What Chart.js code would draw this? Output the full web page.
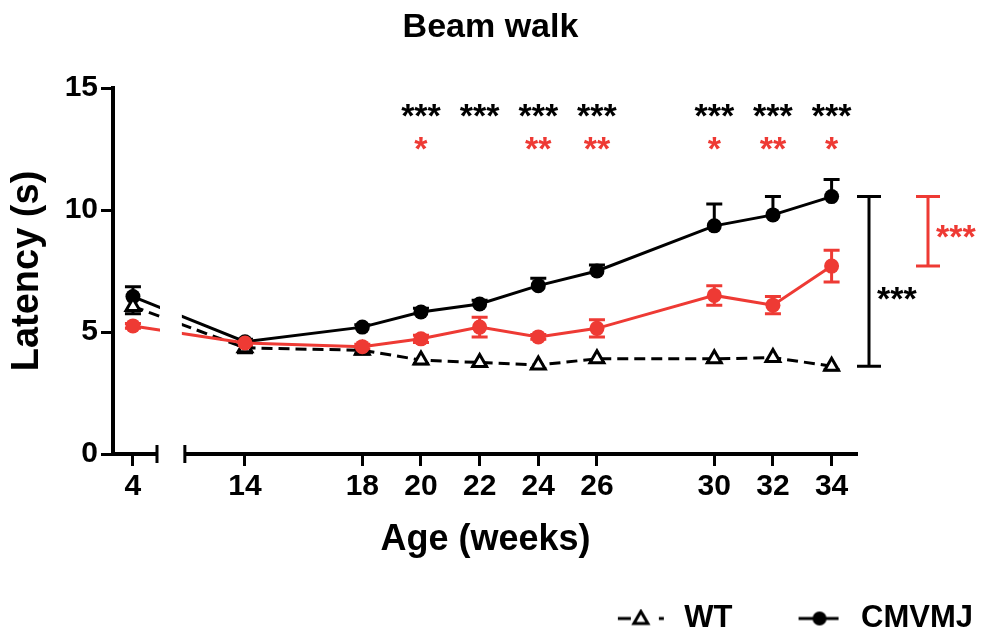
<!DOCTYPE html>
<html>
<head>
<meta charset="utf-8">
<script src="https://cdn.jsdelivr.net/npm/chart.js@4/dist/chart.umd.min.js"></script>
<style>
    body { margin: 0; background: #fff; }
    #wrap { width: 981px; height: 644px; }
</style>
</head>
<body>
<div id="wrap"><canvas id="beam-walk"></canvas></div>
<script>
const ages = [4, 14, 18, 20, 22, 24, 26, 30, 32, 34];
const wtLatency = [6.05, 4.35, 4.25, 3.85, 3.75, 3.65, 3.9, 3.9, 3.95, 3.6];
const wtSem = [0.3, 0.2, 0.15, 0.15, 0.15, 0.15, 0.15, 0.15, 0.15, 0.15];
const mjLatency = [6.45, 4.6, 5.2, 5.82, 6.15, 6.9, 7.5, 9.35, 9.8, 10.55];
const mjSem = [0.4, 0.1, 0.1, 0.15, 0.15, 0.3, 0.25, 0.9, 0.75, 0.7];
const treatedLatency = [5.25, 4.55, 4.4, 4.72, 5.2, 4.8, 5.15, 6.5, 6.1, 7.7];
const treatedSem = [0.1, 0.1, 0.1, 0.15, 0.4, 0.1, 0.35, 0.4, 0.35, 0.65];
const mjStars = ['', '', '', '***', '***', '***', '***', '***', '***', '***'];
const treatedStars = ['', '', '', '*', '', '**', '**', '*', '**', '*'];
const yTicks = [0, 5, 10, 15];

const BLACK = '#000';
const RED = '#ee3a34';
const FONT = '"Liberation Sans", Arial, sans-serif';

// x axis is broken between 4 and 14 weeks; week 4 sits just right of the y axis
const X_MIN = 9.5, X_MAX = 34.9;
const WEEK4_POS = 10.18;
const BREAK_START = 11.0, BREAK_END = 11.95;
const xPos = a => a < 14 ? WEEK4_POS : a;
const toPoints = values => ages.map((a, i) => ({ x: xPos(a), y: values[i] }));

Chart.defaults.font.family = FONT;
Chart.defaults.color = BLACK;

function legendMarker(kind) {
    const c = document.createElement('canvas');
    c.width = 105; c.height = 20;
    const g = c.getContext('2d');
    const end = 100, start = 54, mid = 77, cy = 10;
    g.lineWidth = 3;
    g.strokeStyle = BLACK;
    g.fillStyle = BLACK;
    if (kind === 'wt') {
        g.beginPath();
        g.moveTo(start, cy); g.lineTo(start + 13, cy);
        g.moveTo(end - 5, cy); g.lineTo(end, cy);
        g.stroke();
        g.fillStyle = '#fff';
        g.beginPath();
        g.moveTo(mid, cy - 7); g.lineTo(mid + 7, cy + 5); g.lineTo(mid - 7, cy + 5); g.closePath();
        g.fill(); g.stroke();
    } else {
        g.beginPath();
        g.moveTo(start + 4, cy); g.lineTo(end - 2, cy);
        g.stroke();
        g.beginPath();
        g.arc(mid + 2, cy, 7, 0, Math.PI * 2);
        g.fill();
    }
    return c;
}

const errorBars = {
    id: 'errorBars',
    beforeDatasetsDraw(chart) {
        const { ctx, scales: { x, y } } = chart;
        chart.data.datasets.forEach(ds => {
            if (!ds.sem) return;
            ctx.save();
            ctx.strokeStyle = ds.borderColor;
            ctx.lineWidth = 3;
            ds.data.forEach((p, i) => {
                const px = x.getPixelForValue(p.x);
                const up = ds.semDir !== 'down' ? ds.sem[i] : 0;
                const down = ds.semDir !== 'up' ? ds.sem[i] : 0;
                const top = y.getPixelForValue(p.y + up);
                const bot = y.getPixelForValue(p.y - down);
                ctx.beginPath();
                ctx.moveTo(px, top); ctx.lineTo(px, bot);
                if (up) { ctx.moveTo(px - 8, top); ctx.lineTo(px + 8, top); }
                if (down) { ctx.moveTo(px - 8, bot); ctx.lineTo(px + 8, bot); }
                ctx.stroke();
            });
            ctx.restore();
        });
    }
};

const brokenAxis = {
    id: 'brokenAxis',
    afterDatasetsDraw(chart) {
        const { ctx, chartArea, scales: { x } } = chart;
        const b0 = x.getPixelForValue(BREAK_START), b1 = x.getPixelForValue(BREAK_END);
        ctx.save();
        ctx.fillStyle = '#fff';
        ctx.fillRect(b0 + 3, chartArea.top, b1 - b0 - 6, chartArea.bottom - chartArea.top - 3);
        ctx.restore();
    },
    afterDraw(chart) {
        const { ctx, chartArea, scales: { x } } = chart;
        const yb = chartArea.bottom;
        const b0 = x.getPixelForValue(BREAK_START), b1 = x.getPixelForValue(BREAK_END);
        ctx.save();
        ctx.strokeStyle = BLACK;
        ctx.lineWidth = 4;
        ctx.beginPath();
        ctx.moveTo(chartArea.left - 2, yb); ctx.lineTo(b0, yb);
        ctx.moveTo(b1, yb); ctx.lineTo(chartArea.right, yb);
        ctx.stroke();
        ctx.lineWidth = 3;
        ctx.beginPath();
        ctx.moveTo(b0, yb - 9); ctx.lineTo(b0, yb + 9);
        ctx.moveTo(b1, yb - 9); ctx.lineTo(b1, yb + 9);
        ctx.stroke();
        ctx.restore();
    }
};

const significance = {
    id: 'significance',
    afterDraw(chart) {
        const { ctx, chartArea, scales: { x, y } } = chart;
        ctx.save();
        ctx.font = 'bold 34px ' + FONT;
        ctx.textAlign = 'center';
        ctx.textBaseline = 'alphabetic';
        const rows = [[mjStars, BLACK, 14.1], [treatedStars, RED, 12.75]];
        rows.forEach(([stars, color, level]) => {
            ctx.fillStyle = color;
            stars.forEach((s, i) => {
                if (s) ctx.fillText(s, x.getPixelForValue(xPos(ages[i])), y.getPixelForValue(level) + 17);
            });
        });

        // brackets comparing the last time point
        const last = ages.length - 1;
        const brackets = [
            [wtLatency[last], mjLatency[last], BLACK, chartArea.right + 11, 12],
            [treatedLatency[last], mjLatency[last], RED, chartArea.right + 70, 0]
        ];
        ctx.lineWidth = 3;
        ctx.textAlign = 'left';
        brackets.forEach(([lo, hi, color, bx, shift]) => {
            const y0 = y.getPixelForValue(lo), y1 = y.getPixelForValue(hi);
            ctx.strokeStyle = color;
            ctx.fillStyle = color;
            ctx.beginPath();
            ctx.moveTo(bx, y0); ctx.lineTo(bx, y1);
            ctx.moveTo(bx - 12, y0); ctx.lineTo(bx + 12, y0);
            ctx.moveTo(bx - 12, y1); ctx.lineTo(bx + 12, y1);
            ctx.stroke();
            ctx.fillText('***', bx + 8, (y0 + y1) / 2 + shift + 17);
        });
        ctx.restore();
    }
};

new Chart(document.getElementById('beam-walk'), {
    type: 'line',
    data: {
        datasets: [
            {
                label: 'WT',
                data: toPoints(wtLatency),
                sem: wtSem, semDir: 'down',
                borderColor: BLACK, borderWidth: 3, borderDash: [11, 6],
                pointStyle: 'triangle', pointRadius: 8, pointBorderWidth: 3,
                pointBackgroundColor: '#fff', pointBorderColor: BLACK,
                yAxisID: 'y', order: 1
            },
            {
                label: 'CMVMJ',
                data: toPoints(mjLatency),
                sem: mjSem, semDir: 'up',
                borderColor: BLACK, borderWidth: 3,
                pointStyle: 'circle', pointRadius: 7.5, pointBorderWidth: 0,
                pointBackgroundColor: BLACK,
                yAxisID: 'y', order: 2
            },
            {
                label: 'CMVMJ treated',
                data: toPoints(treatedLatency),
                sem: treatedSem, semDir: 'both',
                borderColor: RED, borderWidth: 3,
                pointStyle: 'circle', pointRadius: 7.5, pointBorderWidth: 0,
                pointBackgroundColor: RED,
                yAxisID: 'y', order: 0
            }
        ]
    },
    options: {
        responsive: true,
        maintainAspectRatio: false,
        animation: false,
        layout: { padding: 0 },
        scales: {
            x: {
                type: 'linear',
                min: X_MIN, max: X_MAX,
                afterBuildTicks: s => { s.ticks = ages.map(a => ({ value: xPos(a) })); },
                afterFit: s => { s.height = 141; },
                ticks: {
                    autoSkip: false, maxRotation: 0, padding: 3,
                    font: { size: 30, weight: 'bold' },
                    callback: v => String(ages.find(a => xPos(a) === v))
                },
                grid: { drawOnChartArea: false, drawTicks: true, tickLength: 12, tickWidth: 3, tickColor: BLACK },
                border: { display: false },
                title: {
                    display: true, text: 'Age (weeks)',
                    font: { size: 36, weight: 'bold' },
                    padding: { top: 0, bottom: 33.4 }
                }
            },
            y: {
                position: 'left',
                min: 0, max: 15,
                afterBuildTicks: s => { s.ticks = yTicks.map(v => ({ value: v })); },
                afterFit: s => { s.width = 113; },
                ticks: { padding: 3, font: { size: 30, weight: 'bold' } },
                grid: { drawOnChartArea: false, drawTicks: true, tickLength: 12, tickWidth: 3, tickColor: BLACK },
                border: { display: true, width: 4, color: BLACK },
                title: {
                    display: true, text: 'Latency (s)',
                    font: { size: 38, weight: 'bold' },
                    padding: { top: 5, bottom: 0 }
                }
            },
            spacer: {
                type: 'linear', position: 'right',
                afterFit: s => { s.width = 123; },
                ticks: { display: false },
                grid: { display: false },
                border: { display: false }
            }
        },
        plugins: {
            title: {
                display: true, text: 'Beam walk', color: BLACK,
                font: { size: 34, weight: 'bold' },
                padding: { top: 7, bottom: 40.2 }
            },
            legend: {
                position: 'bottom', align: 'end',
                labels: {
                    usePointStyle: true, pointStyleWidth: 105, padding: 8,
                    font: { size: 31, weight: 'bold' }, color: BLACK,
                    generateLabels: () => [
                        { text: 'WT', pointStyle: legendMarker('wt'), fillStyle: BLACK, strokeStyle: BLACK, lineWidth: 0, datasetIndex: 0 },
                        { text: 'CMVMJ', pointStyle: legendMarker('mj'), fillStyle: BLACK, strokeStyle: BLACK, lineWidth: 0, datasetIndex: 1 }
                    ]
                }
            },
            tooltip: { enabled: false }
        }
    },
    plugins: [errorBars, brokenAxis, significance]
});
</script>
</body>
</html>
